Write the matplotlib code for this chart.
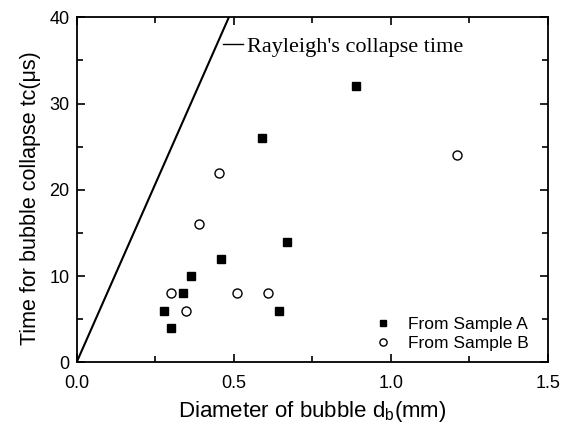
import numpy as np
import matplotlib.pyplot as plt
from matplotlib.ticker import MultipleLocator
from matplotlib.lines import Line2D

# Rayleigh collapse time line
rayleigh_d = [0.0, 0.485]
rayleigh_t = [0.0, 40.0]

# Sample A (filled squares)
a_d = [0.28, 0.30, 0.34, 0.365, 0.46, 0.59, 0.67, 0.645, 0.89]
a_t = [6, 4, 8, 10, 12, 26, 14, 6, 32]

# Sample B (open circles)
b_d = [0.30, 0.35, 0.39, 0.455, 0.51, 0.61, 1.21]
b_t = [8, 6, 16, 22, 8, 8, 24]

plt.rcParams['font.family'] = ['Liberation Sans', 'DejaVu Sans']

fig = plt.figure(figsize=(5.67, 4.3), dpi=100)
ax = fig.add_axes([0.135, 0.157, 0.831, 0.803])

ax.plot(rayleigh_d, rayleigh_t, color="black", lw=1.5)
sa, = ax.plot(a_d, a_t, "s", color="black", ms=6, ls="none")
sb, = ax.plot(b_d, b_t, "o", mfc="white", mec="black", mew=1.0, ms=6.5, ls="none")

ax.set_xlim(0, 1.5)
ax.set_ylim(0, 40)
ax.xaxis.set_major_locator(MultipleLocator(0.5))
ax.xaxis.set_minor_locator(MultipleLocator(0.25))
ax.yaxis.set_major_locator(MultipleLocator(10))
ax.yaxis.set_minor_locator(MultipleLocator(5))
ax.xaxis.set_major_formatter(lambda v, p: f"{v:.1f}")
ax.tick_params(which="both", direction="in", top=True, right=True, width=1.2)
ax.tick_params(which="major", length=6, labelsize=13)
ax.tick_params(axis="x", which="major", pad=9)
ax.tick_params(axis="y", which="major", pad=5)
ax.tick_params(which="minor", length=4)
for s in ax.spines.values():
    s.set_linewidth(1.3)

ax.set_xlabel("Diameter of bubble d$_\\mathregular{b}$(mm)", fontsize=16, labelpad=5)
ax.set_ylabel("Time for bubble collapse tc(\u03bcs)", fontsize=15.5, labelpad=6)
ax.yaxis.label.set_y(0.475)

leg1 = ax.legend([Line2D([], [], color="black", lw=1)], ["Rayleigh's collapse time"],
                 loc="upper left", bbox_to_anchor=(0.31, 0.945), frameon=False,
                 handlelength=0.9, handletextpad=0.22, borderaxespad=0,
                 borderpad=0, prop={"family": "Liberation Serif", "size": 16})
ax.add_artist(leg1)
ax.legend([sa, sb], ["From Sample A", "From Sample B"], loc="lower right",
          bbox_to_anchor=(0.979, 0.008), frameon=False, fontsize=12.5,
          handlelength=1.0, handletextpad=0.94, labelspacing=0.2,
          borderaxespad=0.1, markerscale=0.8)

fig.savefig("out.png", dpi=100)
